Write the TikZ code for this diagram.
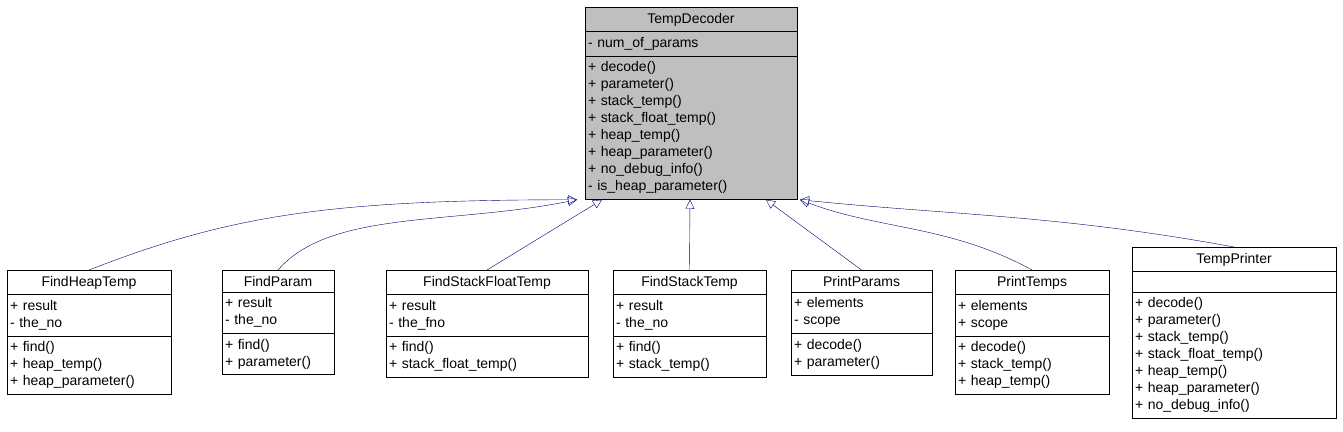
\documentclass[tikz,border=0pt]{standalone}
\usepackage{fontspec}
\setmainfont{Liberation Sans}
\usetikzlibrary{arrows.meta,shapes.multipart}
\colorlet{edgeblue}{blue!45!black}
\newcommand{\umltitle}[1]{\makebox[\linewidth][c]{#1}}
\begin{document}
\begin{tikzpicture}[
		x=1pt, y=-1pt,
		>=Triangle,
		umlbox/.style={rectangle split, rectangle split parts=3, draw=black,
			anchor=north, inner xsep=3pt, inner ysep=5.5pt,
			font=\fontsize{14}{17}\selectfont, fill=white},
		inherit/.style={draw=edgeblue, -{Triangle[open,length=9pt,width=9pt]}},
	]
		\useasboundingbox (0,0) rectangle (1343,431);

		% Base class
		\node[umlbox, text width=206pt, fill=black!25] (decoder) at (691,7)
			{\umltitle{TempDecoder}
			\nodepart{two}- num\_of\_params
			\nodepart{three}+ decode()\\+ parameter()\\+ stack\_temp()\\+ stack\_float\_temp()\\+ heap\_temp()\\+ heap\_parameter()\\+ no\_debug\_info()\\- is\_heap\_parameter()};

		% Derived classes
		\node[umlbox, text width=158pt] (heap) at (89,270)
			{\umltitle{FindHeapTemp}
			\nodepart{two}+ result\\- the\_no
			\nodepart{three}+ find()\\+ heap\_temp()\\+ heap\_parameter()};
		\node[umlbox, text width=106pt] (param) at (278,270)
			{\umltitle{FindParam}
			\nodepart{two}+ result\\- the\_no
			\nodepart{three}+ find()\\+ parameter()};
		\node[umlbox, text width=196pt] (floattemp) at (487,270)
			{\umltitle{FindStackFloatTemp}
			\nodepart{two}+ result\\- the\_fno
			\nodepart{three}+ find()\\+ stack\_float\_temp()};
		\node[umlbox, text width=147pt] (stacktemp) at (689.5,270)
			{\umltitle{FindStackTemp}
			\nodepart{two}+ result\\- the\_no
			\nodepart{three}+ find()\\+ stack\_temp()};
		\node[umlbox, text width=135pt] (pparams) at (861.5,270)
			{\umltitle{PrintParams}
			\nodepart{two}+ elements\\- scope
			\nodepart{three}+ decode()\\+ parameter()};
		\node[umlbox, text width=148pt] (ptemps) at (1032,270)
			{\umltitle{PrintTemps}
			\nodepart{two}+ elements\\+ scope
			\nodepart{three}+ decode()\\+ stack\_temp()\\+ heap\_temp()};
		\node[umlbox, text width=198pt] (printer) at (1234,247)
			{\umltitle{TempPrinter}
			\nodepart{two}\rule{0pt}{9pt}
			\nodepart{three}+ decode()\\+ parameter()\\+ stack\_temp()\\+ stack\_float\_temp()\\+ heap\_temp()\\+ heap\_parameter()\\+ no\_debug\_info()};

		% Generalisations
		\coordinate (tipA) at ([xshift=-114pt]decoder.south);
		\coordinate (tipB) at ([xshift=-89pt]decoder.south);
		\coordinate (tipC) at ([xshift=-1pt]decoder.south);
		\coordinate (tipD) at ([xshift=75pt]decoder.south);
		\coordinate (tipE) at ([xshift=109pt]decoder.south);
		\draw[inherit] (heap.north) .. controls (230,215) and (330,200) .. (tipA);
		\draw[inherit] (param.north) .. controls (330,210) and (450,225) .. (tipA);
		\draw[inherit] (floattemp.north) -- (tipB);
		\draw[inherit] (stacktemp.north) -- (tipC);
		\draw[inherit] (pparams.north) -- (tipD);
		\draw[inherit] (ptemps.north) .. controls (950,225) and (880,230) .. (tipE);
		\draw[inherit] (printer.north) .. controls (1060,215) and (950,215) .. (tipE);
\end{tikzpicture}
\end{document}
